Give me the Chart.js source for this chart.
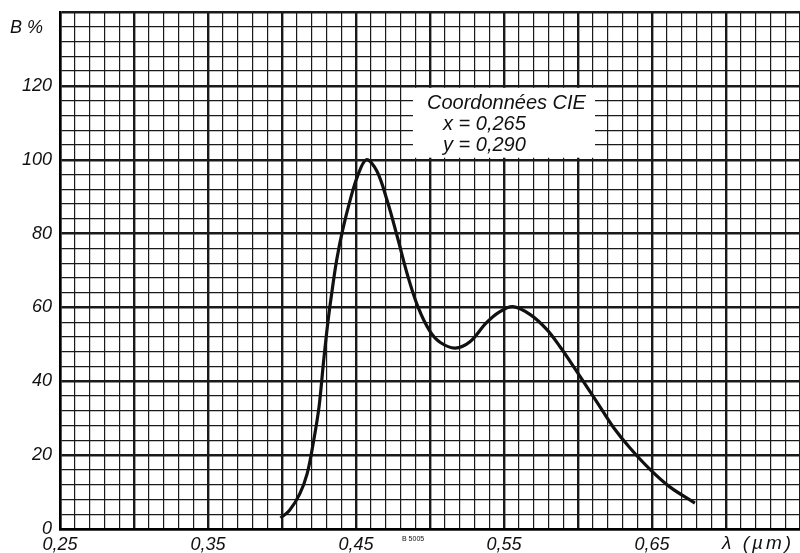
<!DOCTYPE html>
<html>
<head>
<meta charset="utf-8">
<script src="https://cdn.jsdelivr.net/npm/chart.js@4"></script>
<style>
  html, body { margin: 0; padding: 0; background: #fff; }
  #wrap { width: 800px; height: 553px; }
</style>
</head>
<body>
<div id="wrap"><canvas id="chart" width="800" height="553"></canvas></div>
<script>
// wavelength (µm) and relative brightness B (%)
const lambda = [0.399, 0.405, 0.412, 0.417, 0.421, 0.425, 0.428, 0.431, 0.434, 0.437,
  0.441, 0.446, 0.451, 0.457, 0.464, 0.471, 0.478, 0.485, 0.492, 0.500,
  0.507, 0.517, 0.527, 0.538, 0.547, 0.556, 0.568, 0.579, 0.588, 0.597,
  0.606, 0.615, 0.624, 0.635, 0.649, 0.662, 0.679];
const brightness = [3, 5, 9.5, 15, 23, 33, 45, 56, 65, 73,
  81, 89, 95.5, 100, 97, 89, 79, 68.5, 60, 53.5,
  50.5, 49, 50.7, 55.8, 58.8, 60.2, 58, 54, 49.3, 44,
  38.5, 33, 27.5, 22, 16, 11.4, 7];

const xLabels = ['0,25', '0,35', '0,45', '0,55', '0,65'];
const yLabels = ['0', '20', '40', '60', '80', '100', '120'];
const boxLines = ['Coordonnées CIE', 'x = 0,265', 'y = 0,290'];

const FONT = "'Liberation Sans', Arial, sans-serif";

const annotations = {
  id: 'annotations',
  afterDatasetsDraw(chart) {
    const { ctx, scales: { x, y } } = chart;
    ctx.save();
    // white box for CIE coordinates
    const bx0 = x.getPixelForValue(0.4885), bx1 = x.getPixelForValue(0.6115);
    const by0 = y.getPixelForValue(120) + 2, by1 = y.getPixelForValue(100) - 2;
    ctx.fillStyle = '#fff';
    ctx.fillRect(bx0, by0, bx1 - bx0, by1 - by0);
    ctx.fillStyle = '#111';
    ctx.font = 'italic 20px ' + FONT;
    ctx.textBaseline = 'middle';
    ctx.textAlign = 'left';
    ctx.fillText(boxLines[0], bx0 + 14, by0 + 16);
    ctx.fillText(boxLines[1], bx0 + 30, by0 + 37);
    ctx.fillText(boxLines[2], bx0 + 30, by0 + 58);

    // axis titles
    ctx.font = 'italic 18px ' + FONT;
    ctx.fillText('B %', 10, 28);
    ctx.font = 'italic 19px ' + FONT;
    ctx.letterSpacing = '3px';
    ctx.fillText('λ (µm)', 722, 544);
    ctx.letterSpacing = '0px';
    ctx.font = '7px ' + FONT;
    ctx.fillText('B 5005', 402, 539);
    ctx.restore();
  }
};

new Chart(document.getElementById('chart'), {
  type: 'line',
  data: {
    datasets: [{
      data: lambda.map((l, i) => ({ x: l, y: brightness[i] })),
      borderColor: '#111',
      borderWidth: 3.2,
      pointRadius: 0,
      fill: false,
      tension: 0.35
    }]
  },
  options: {
    responsive: false,
    animation: false,
    devicePixelRatio: 1,
    layout: { padding: { top: 12, right: 0, left: 0, bottom: 0 } },
    plugins: { legend: { display: false }, tooltip: { enabled: false } },
    scales: {
      x: {
        type: 'linear',
        min: 0.25,
        max: 0.75,
        afterFit: s => { s.height = 24; s.paddingLeft = 0; s.paddingRight = 0; },
        border: { display: true, color: '#000', width: 2.5 },
        grid: {
          drawTicks: false,
          color: '#1a1a1a',
          lineWidth: c => (Math.round(c.tick.value * 100) % 5 === 0 ? 2.4 : 1.2)
        },
        ticks: {
          stepSize: 0.01,
          autoSkip: false,
          maxRotation: 0,
          padding: 5,
          color: '#111',
          font: { family: FONT, size: 18, style: 'italic' },
          callback: v => {
            const r = Math.round(v * 100);
            const i = (r - 25) / 10;
            return Number.isInteger(i) && xLabels[i] ? xLabels[i] : '';
          }
        }
      },
      y: {
        min: 0,
        max: 140,
        afterFit: s => { s.width = 60; s.paddingTop = 0; s.paddingBottom = 0; },
        border: { display: true, color: '#000', width: 2.5 },
        grid: {
          drawTicks: false,
          color: '#1a1a1a',
          lineWidth: c => (c.tick.value % 20 === 0 ? 2.4 : 1.2)
        },
        ticks: {
          stepSize: 4,
          autoSkip: false,
          padding: 8,
          color: '#111',
          font: { family: FONT, size: 18, style: 'italic' },
          callback: v => (v % 20 === 0 && yLabels[v / 20] ? yLabels[v / 20] : '')
        }
      }
    }
  },
  plugins: [annotations]
});
</script>
</body>
</html>
